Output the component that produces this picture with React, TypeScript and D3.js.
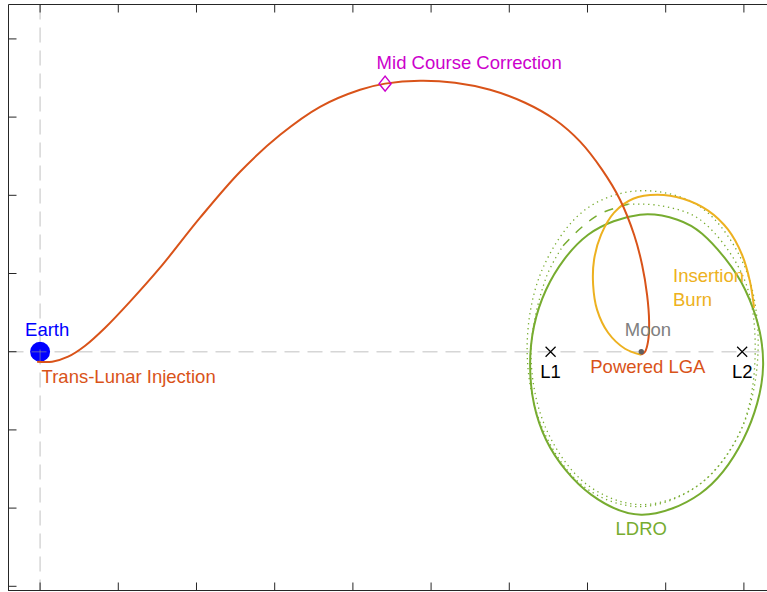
import React from "react";
import * as d3 from "d3";

const W = 767;
const H = 592;

// Units: thousand km, Earth-centred rotating frame
const xTickValues = [0, 50, 100, 150, 200, 250, 300, 350, 400, 450];
const yTickValues = [-150, -100, -50, 0, 50, 100, 150, 200];

// Trans-lunar trajectory (Earth -> Moon)
const transferX = [-1.9, 7.7, 17.9, 28.8, 41.6, 57.5, 76.7, 102.3, 127.9, 153.5, 179.0, 204.6, 220.6, 243.0, 265.3, 287.7, 310.1, 329.3, 345.3, 359.3, 370.8, 379.8, 384.9, 388.1, 389.4, 388.7, 386.8, 384.3];
const transferY = [-6.4, -6.4, -3.2, 3.8, 15.3, 32.0, 53.7, 85.7, 115.1, 138.7, 156.6, 167.5, 171.4, 173.3, 172.0, 167.5, 159.2, 148.3, 134.3, 116.4, 97.2, 74.8, 55.6, 36.4, 19.2, 6.4, 0, -1.9];

// Insertion burn arc
const insertX = [384.3, 374.0, 363.2, 356.1, 353.6, 354.2, 358.7, 367.0, 379.2, 394.5, 411.1, 427.1, 439.9, 448.8, 453.9, 456.5];
const insertY = [-1.9, 1.9, 12.1, 26.9, 42.8, 58.8, 74.8, 88.9, 97.8, 100.4, 97.8, 90.2, 78.0, 62.0, 44.8, 28.1];

// LDRO (closed)
const ldroX = [383.6, 407.5, 423.3, 450.8, 462.3, 449.5, 422.0, 384.3, 352.3, 323.5, 313.3, 323.5, 350.4];
const ldroY = [87.6, 84.4, 75.4, 39.6, -8.3, -56.3, -90.8, -104.2, -91.4, -56.3, -8.3, 39.6, 74.8];

// Neighbouring orbit, outer (closed, dotted)
const outerX = [383.6, 422.0, 450.8, 459.1, 448.8, 421.4, 383.6, 347.8, 321.0, 311.4, 321.0, 348.5];
const outerY = [102.9, 92.7, 53.7, 1.9, -48.6, -85.0, -99.1, -86.3, -48.6, 1.9, 52.4, 90.8];

// Neighbouring orbit, inner (open, dotted)
const innerX = [376.0, 396.4, 422.0, 450.1, 457.2, 448.2, 421.4, 384.3, 349.7, 323.5, 313.9, 323.5, 334.4];
const innerY = [94.3, 93.4, 84.4, 46.7, -1.3, -49.9, -85.0, -97.8, -85.0, -49.2, -1.3, 47.3, 67.8];

// Dashed segment
const dashX = [334.4, 345.2, 358.1, 376.0];
const dashY = [67.8, 78.6, 88.2, 94.3];

// Bodies / points
const earth = { x: 0, y: 0, r: 6.378 };
const moon = { x: 384.4, y: 0, r: 1.737 };
const lagrangeNames = ["L1", "L2"];
const lagrangeX = [326.4, 448.9];
const mcc = { x: 220.6, y: 171.4 };

const RED = "#D95319";
const ORANGE = "#EDB120";
const GREEN = "#77AC30";
const MAGENTA = "#CC00CC";
const FONT = "'Liberation Sans', Arial, Helvetica, sans-serif";

const zip = (a: number[], b: number[]) => a.map((v, i) => [v, b[i]] as [number, number]);

export default function App() {
  const x = d3.scaleLinear().domain([-20.2, 470]).range([8.5, 8.5 + 490.2 * 1.564]);
  const y = d3.scaleLinear().domain([-153, 222]).range([591, 4.5]);

  const open = d3
    .line<[number, number]>()
    .x((d) => x(d[0]))
    .y((d) => y(d[1]))
    .curve(d3.curveCatmullRom.alpha(0.5));
  const closed = d3
    .line<[number, number]>()
    .x((d) => x(d[0]))
    .y((d) => y(d[1]))
    .curve(d3.curveCatmullRomClosed.alpha(0.5));

  const left = 8.5;
  const top = 4.5;
  const bottom = 590.5;
  const px = (v: number) => x(v);
  const py = (v: number) => y(v);
  const sc = 1.564; // px per thousand km

  const mx = px(mcc.x);
  const my = py(mcc.y);

  return (
    <svg
      width={W}
      height={H}
      style={{ position: "absolute", left: 0, top: 0, background: "#fff" }}
      fontFamily={FONT}
    >
      <rect x={0} y={0} width={W} height={H} fill="#fff" />

      {/* Earth */}
      <circle cx={px(earth.x)} cy={py(earth.y)} r={earth.r * sc} fill="#0000FF" />

      {/* reference dashed axes */}
      <line x1={left} x2={W} y1={py(0)} y2={py(0)} stroke="#999" strokeOpacity={0.4} strokeWidth={1.5} strokeDasharray="15,8" />
      <line x1={px(0)} x2={px(0)} y1={top} y2={bottom} stroke="#999" strokeOpacity={0.4} strokeWidth={1.5} strokeDasharray="15,8" />

      {/* orbits */}
      <path d={closed(zip(outerX, outerY)) || ""} fill="none" stroke={GREEN} strokeWidth={1.3} strokeDasharray="1.3,3.7" />
      <path d={open(zip(innerX, innerY)) || ""} fill="none" stroke={GREEN} strokeWidth={1.3} strokeDasharray="1.3,3.7" />
      <path d={open(zip(dashX, dashY)) || ""} fill="none" stroke={GREEN} strokeWidth={1.5} strokeDasharray="9,9" />
      <path d={closed(zip(ldroX, ldroY)) || ""} fill="none" stroke={GREEN} strokeWidth={2} />
      <path d={open(zip(insertX, insertY)) || ""} fill="none" stroke={ORANGE} strokeWidth={2} />
      <path d={open(zip(transferX, transferY)) || ""} fill="none" stroke={RED} strokeWidth={2} />

      {/* Moon */}
      <circle cx={px(moon.x)} cy={py(moon.y)} r={moon.r * sc} fill="#606060" />

      {/* Lagrange points */}
      {lagrangeX.map((lx, i) => {
        const cx = px(lx);
        const cy = py(0);
        const s = 5;
        return (
          <g key={lagrangeNames[i]}>
            <path d={`M${cx - s},${cy - s}L${cx + s},${cy + s}M${cx - s},${cy + s}L${cx + s},${cy - s}`} stroke="#000" strokeWidth={1.2} />
            <text x={cx} y={cy + 26} textAnchor="middle" fontSize={18.5} fill="#000">
              {lagrangeNames[i]}
            </text>
          </g>
        );
      })}

      {/* Mid course correction marker */}
      <path d={`M${mx},${my - 7.5}L${mx + 6},${my}L${mx},${my + 7.5}L${mx - 6},${my}Z`} fill="none" stroke={MAGENTA} strokeWidth={1.5} />

      {/* Labels */}
      <text x={px(earth.x) - 15} y={py(0) - 16} fontSize={18.5} fill="#0000FF">Earth</text>
      <text x={px(earth.x) + 1.5} y={py(0) + 31} fontSize={18.5} fill={RED}>Trans-Lunar Injection</text>
      <text x={mx - 8.5} y={my - 15} fontSize={18.5} fill={MAGENTA}>Mid Course Correction</text>
      <text x={px(moon.x) - 16.5} y={py(0) - 16} fontSize={18.5} fill="#808080">Moon</text>
      <text x={673} y={282} fontSize={18.5} fill={ORANGE}>Insertion</text>
      <text x={673} y={306} fontSize={18.5} fill={ORANGE}>Burn</text>
      <text x={px(moon.x) - 51} y={py(0) + 21} fontSize={18.5} fill={RED}>Powered LGA</text>
      <text x={px(moon.x)} y={535} fontSize={18.5} fill={GREEN} textAnchor="middle">LDRO</text>

      {/* axes box */}
      <line x1={left} x2={left} y1={top} y2={bottom + 0.5} stroke="#262626" strokeWidth={1} />
      <line x1={left} x2={W} y1={top} y2={top} stroke="#262626" strokeWidth={1} />
      <line x1={left} x2={W} y1={bottom} y2={bottom} stroke="#262626" strokeWidth={1} />
      {yTickValues.map((v) => (
        <line key={"yt" + v} x1={left} x2={left + 8} y1={py(v)} y2={py(v)} stroke="#262626" strokeWidth={1} />
      ))}
      {xTickValues.map((v) => (
        <g key={"xt" + v}>
          <line x1={px(v)} x2={px(v)} y1={top} y2={top + 8} stroke="#262626" strokeWidth={1} />
          <line x1={px(v)} x2={px(v)} y1={bottom} y2={bottom - 8} stroke="#262626" strokeWidth={1} />
        </g>
      ))}
    </svg>
  );
}
